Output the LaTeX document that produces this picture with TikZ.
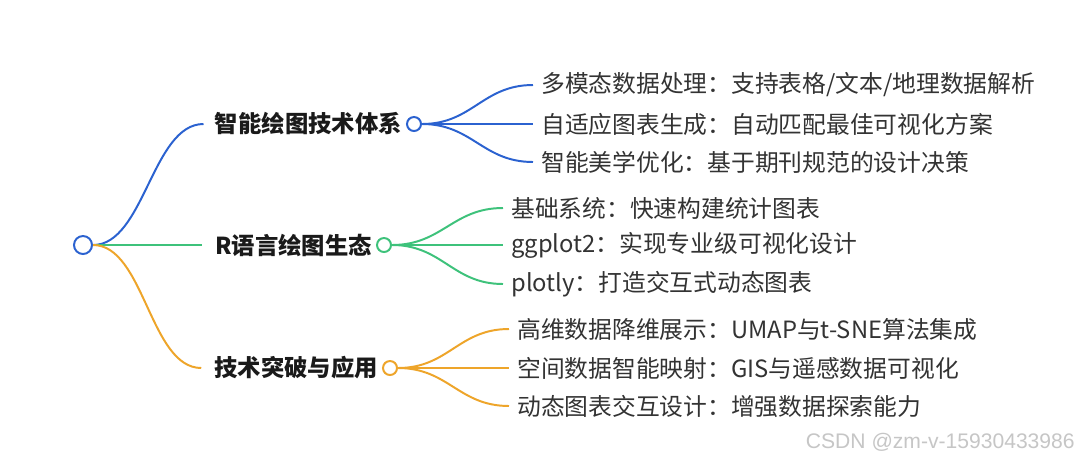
\documentclass[tikz,border=0pt]{standalone}
\usepackage{fontspec}
\setmainfont{Noto Sans CJK SC}
\newfontfamily\markfont{Liberation Sans}
\usetikzlibrary{positioning}
\definecolor{mapblue}{HTML}{2B62D0}
\definecolor{mapgreen}{HTML}{3EC27B}
\definecolor{maporange}{HTML}{EEA52A}
\definecolor{ink}{HTML}{1A1A1A}
\definecolor{leafink}{HTML}{333333}
\tikzset{
  hub/.style={circle,draw=#1,fill=white,line width=1.4pt,
              minimum size=0.35cm,inner sep=0pt},
  roothub/.style={hub=#1,minimum size=0.45cm},
  topic/.style={text=ink,font=\fontsize{16.6pt}{19pt}\selectfont\bfseries,
                inner sep=0pt},
  leaf/.style={text=leafink,font=\fontsize{16.9pt}{19pt}\selectfont,
               anchor=west,inner xsep=0.2cm,inner ysep=0pt},
  arc/.style={line width=1.4pt,draw=#1,out=0,in=180,looseness=1.1},
  rootarc/.style={arc=#1,looseness=0.8}
}

\begin{document}
\begin{tikzpicture}[x=0.025cm,y=-0.025cm]
    \path[use as bounding box,fill=white] (0,0) rectangle (1080,462);

    % root and topics
    \node[roothub=mapblue] (root) at (83,245) {};
    \node[hub=mapblue] (hub1) at (414,124) {};
    \node[hub=mapgreen] (hub2) at (384,245) {};
    \node[hub=maporange] (hub3) at (390,368) {};
    \node[topic,left=0.1cm of hub1] (t1) {智能绘图技术体系};
    \node[topic,left=0.1cm of hub2] (t2) {R语言绘图生态};
    \node[topic,left=0.1cm of hub3] (t3) {技术突破与应用};
    \draw[rootarc=mapblue] (root.east) to ([xshift=-0.28cm]t1.west);
    \draw[rootarc=mapgreen] (root.east) to ([xshift=-0.32cm]t2.west);
    \draw[rootarc=maporange] (root.east) to ([xshift=-0.32cm]t3.west);

    % leaves
    \node[leaf] (l11) at (533,85) {多模态数据处理：支持表格/文本/地理数据解析};
    \node[leaf] (l12) at (533,124) {自适应图表生成：自动匹配最佳可视化方案};
    \node[leaf] (l13) at (533,162) {智能美学优化：基于期刊规范的设计决策};
    \node[leaf] (l21) at (503,208) {基础系统：快速构建统计图表};
    \node[leaf] (l22) at (503,245) {ggplot2：实现专业级可视化设计};
    \node[leaf] (l23) at (503,284) {plotly：打造交互式动态图表};
    \node[leaf] (l31) at (509,329) {高维数据降维展示：UMAP与t-SNE算法集成};
    \node[leaf] (l32) at (509,368) {空间数据智能映射：GIS与遥感数据可视化};
    \node[leaf] (l33) at (509,406) {动态图表交互设计：增强数据探索能力};
    \foreach \n in {1,2,3} {
      \draw[arc=mapblue] (hub1.east) to (l1\n.west);
      \draw[arc=mapgreen] (hub2.east) to (l2\n.west);
      \draw[arc=maporange] (hub3.east) to (l3\n.west);
    }

    \node[anchor=east,text=gray!45,font=\markfont\fontsize{15pt}{18pt}\selectfont,
          inner sep=0pt] (mark) at (1075,442) {CSDN @zm-v-15930433986};
  \end{tikzpicture}
\end{document}
